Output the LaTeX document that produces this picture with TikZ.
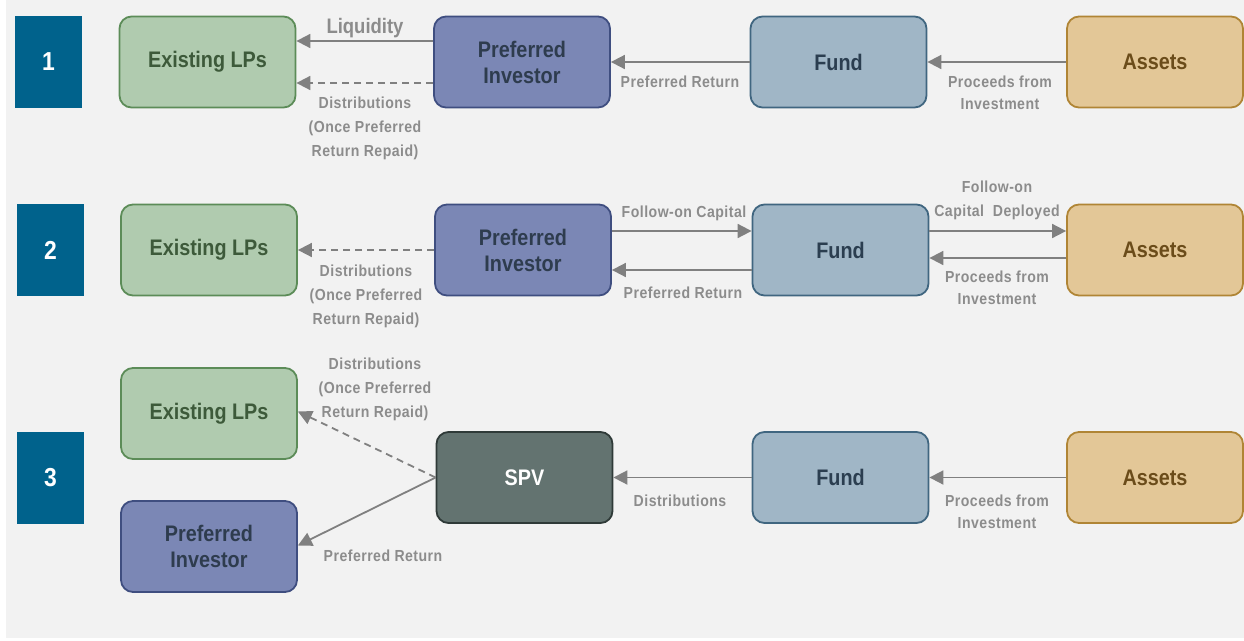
\documentclass[tikz,border=0pt]{standalone}
\usepackage{fontspec}
\setmainfont{Liberation Sans}[FakeStretch=0.88]
\newfontfamily\labfont{Liberation Sans}[FakeStretch=0.88, LetterSpace=3]
\usetikzlibrary{arrows.meta,calc}
\definecolor{bgc}{HTML}{F2F2F2}
\definecolor{numc}{HTML}{00628C}
\definecolor{lpfill}{HTML}{B0CBAF}
\definecolor{lpline}{HTML}{5C8C58}
\definecolor{lptext}{HTML}{3D5A3A}
\definecolor{pifill}{HTML}{7B87B5}
\definecolor{piline}{HTML}{3F4E80}
\definecolor{pitext}{HTML}{2E3C4E}
\definecolor{fdfill}{HTML}{A0B6C6}
\definecolor{fdline}{HTML}{406680}
\definecolor{fdtext}{HTML}{2B3E50}
\definecolor{asfill}{HTML}{E3C797}
\definecolor{asline}{HTML}{B08535}
\definecolor{astext}{HTML}{6B4C1A}
\definecolor{spvfill}{HTML}{637370}
\definecolor{spvline}{HTML}{2F3A38}
\definecolor{arrc}{HTML}{808080}
\definecolor{labc}{HTML}{8C8C8C}
\tikzset{
  boxbase/.style={rounded corners=12pt, line width=1.8pt, minimum width=176pt, minimum height=91pt, inner sep=0pt, align=center, font=\fontsize{22.5}{26}\selectfont\bfseries},
  lpbox/.style={boxbase, fill=lpfill, draw=lpline, text=lptext},
  pibox/.style={boxbase, fill=pifill, draw=piline, text=pitext},
  fdbox/.style={boxbase, fill=fdfill, draw=fdline, text=fdtext},
  asbox/.style={boxbase, fill=asfill, draw=asline, text=astext},
  spvbox/.style={boxbase, fill=spvfill, draw=spvline, text=white},
  numbox/.style={fill=numc, minimum width=67pt, minimum height=92pt, inner sep=0pt, text=white, font=\fontsize{26}{28}\selectfont\bfseries},
  arr/.style={draw=arrc, line width=1.8pt, -{Triangle[length=14pt,width=14pt]}},
  dasharr/.style={arr, dash pattern=on 7pt off 5pt},
  lab/.style={text=labc, align=center, inner sep=0pt, font=\labfont\fontsize{16}{24}\selectfont\bfseries},
  lab2/.style={lab, font=\labfont\fontsize{16}{22}\selectfont\bfseries},
}
\begin{document}
\begin{tikzpicture}[x=1pt,y=-1pt]
\useasboundingbox (0,0) rectangle (1244,640);
\fill[white] (0,0) rectangle (1244,640);
\fill[bgc] (6,0) rectangle (1244,638);

% Row 1
\node[numbox] (n1) at (48.5,62) {1};
\node[lpbox] (lp1) at (207.5,62) {Existing LPs};
\node[pibox] (pi1) at (522,62) {Preferred\\Investor};
\node[fdbox] (fd1) at (838.5,62) {Fund};
\node[asbox] (as1) at (1155,62) {Assets};
\draw[arr] ([yshift=21pt]pi1.west) -- ([yshift=21pt]lp1.east);
\draw[dasharr] ([yshift=-21pt]pi1.west) -- ([yshift=-21pt]lp1.east);
\draw[arr] (fd1.west) -- (pi1.east);
\draw[arr] (as1.west) -- (fd1.east);
\node[lab, font=\fontsize{21}{22}\selectfont\bfseries] (l1a) at (365,28) {Liquidity};
\node[lab] (l1b) at (365,128) {Distributions\\(Once Preferred\\Return Repaid)};
\node[lab] (l1c) at (680,82) {Preferred Return};
\node[lab2] (l1d) at (1000,93) {Proceeds from\\Investment};

% Row 2
\node[numbox] (n2) at (50.5,250) {2};
\node[lpbox] (lp2) at (209,250) {Existing LPs};
\node[pibox] (pi2) at (523,250) {Preferred\\Investor};
\node[fdbox] (fd2) at (840.5,250) {Fund};
\node[asbox] (as2) at (1155,250) {Assets};
\draw[dasharr] (pi2.west) -- (lp2.east);
\draw[arr] ([yshift=19pt]pi2.east) -- ([yshift=19pt]fd2.west);
\draw[arr] ([yshift=-20pt]fd2.west) -- ([yshift=-20pt]pi2.east);
\draw[arr] ([yshift=19pt]fd2.east) -- ([yshift=19pt]as2.west);
\draw[arr] ([yshift=-8pt]as2.west) -- ([yshift=-8pt]fd2.east);
\node[lab] (l2a) at (366,296) {Distributions\\(Once Preferred\\Return Repaid)};
\node[lab] (l2b) at (684,213) {Follow-on Capital};
\node[lab] (l2c) at (683,293) {Preferred Return};
\node[lab] (l2d) at (997,200) {Follow-on\\Capital\ \ Deployed};
\node[lab2] (l2e) at (997,288) {Proceeds from\\Investment};

% Row 3
\node[numbox] (n3) at (50.5,478) {3};
\node[lpbox] (lp3) at (209,413.5) {Existing LPs};
\node[pibox] (pi3) at (209,546.5) {Preferred\\Investor};
\node[spvbox] (spv) at (524.5,477.5) {SPV};
\node[fdbox] (fd3) at (840.5,477.5) {Fund};
\node[asbox] (as3) at (1155,477.5) {Assets};
\draw[dasharr] (spv.west) -- ([yshift=2pt]lp3.east);
\draw[arr] (spv.west) -- ([yshift=1pt]pi3.east);
\draw[arr] (fd3.west) -- (spv.east);
\draw[arr] (as3.west) -- (fd3.east);
\node[lab] (l3a) at (375,389.5) {Distributions\\(Once Preferred\\Return Repaid)};
\node[lab] (l3b) at (383,556) {Preferred Return};
\node[lab] (l3c) at (680,501) {Distributions};
\node[lab2] (l3d) at (997,512) {Proceeds from\\Investment};
\end{tikzpicture}
\end{document}
